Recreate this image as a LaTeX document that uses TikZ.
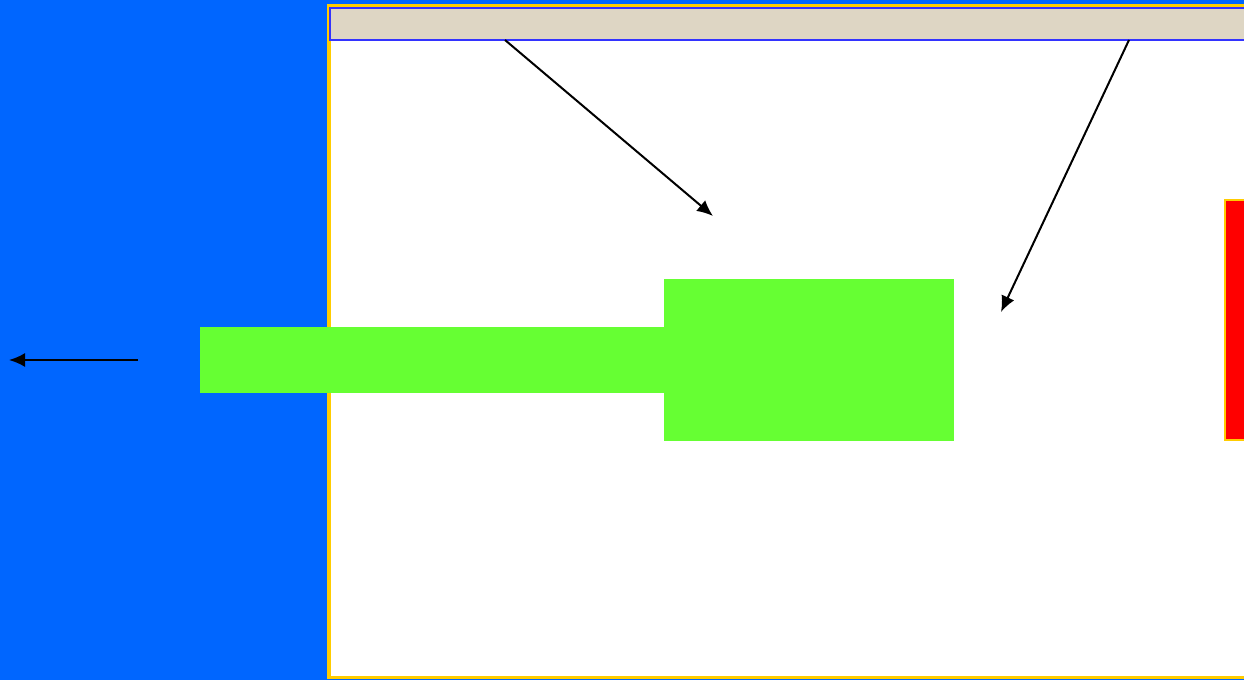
\documentclass[tikz,border=0pt]{standalone}
\usepackage{xcolor}
\usepackage{tikz}
\usetikzlibrary{arrows.meta,positioning}
\definecolor{slideBlue}{HTML}{0066FF}
\definecolor{frameYellow}{HTML}{FFCC00}
\definecolor{barBeige}{HTML}{DED6C4}
\definecolor{barEdge}{HTML}{3333FF}
\definecolor{blockGreen}{HTML}{66FF33}
\definecolor{markRed}{HTML}{FF0000}

\begin{document}
\begin{tikzpicture}[x=0.5pt,y=-0.5pt,>={Latex[length=8pt,width=7pt]}]
  \tikzset{
    box/.style={rectangle,inner sep=0pt,outer sep=0pt,anchor=north west},
    pointer/.style={->,line width=1pt,black}
  }
  \useasboundingbox (0,0) rectangle (1244,680);
  \clip (0,0) rectangle (1244,680);
  \fill[slideBlue] (0,0) rectangle (1244,680);
  % white panel with the title bar
  \node[box,fill=white,draw=frameYellow,line width=1.8pt,
        minimum width=465.5pt,minimum height=335.75pt] (panel) at (329,6) {};
  \node[box,fill=barBeige,draw=barEdge,line width=1pt,
        minimum width=465.25pt,minimum height=16pt] (titlebar) at (329.5,8) {};
  % green blocks
  \node[box,fill=blockGreen,minimum width=232pt,minimum height=33pt] (shaft) at (200,327) {};
  \node[box,fill=blockGreen,minimum width=145pt,minimum height=81pt] (head) at (664,279) {};
  % red strip at the right edge
  \node[box,fill=markRed,draw=frameYellow,line width=1pt,
        minimum width=17.5pt,minimum height=120pt] (strip) at (1225,200) {};
  % arrows
  \coordinate (srcA) at (505,40);
  \coordinate (srcB) at (1129,40);
  \coordinate (tipA) at (713,216);
  \coordinate (tipB) at (1001,312);
  \coordinate (srcC) at (138,360);
  \coordinate (tipC) at (9,360);
  \draw[pointer] (srcA) -- (tipA);
  \draw[pointer] (srcB) -- (tipB);
  \draw[pointer] (srcC) -- (tipC);
\end{tikzpicture}
\end{document}
